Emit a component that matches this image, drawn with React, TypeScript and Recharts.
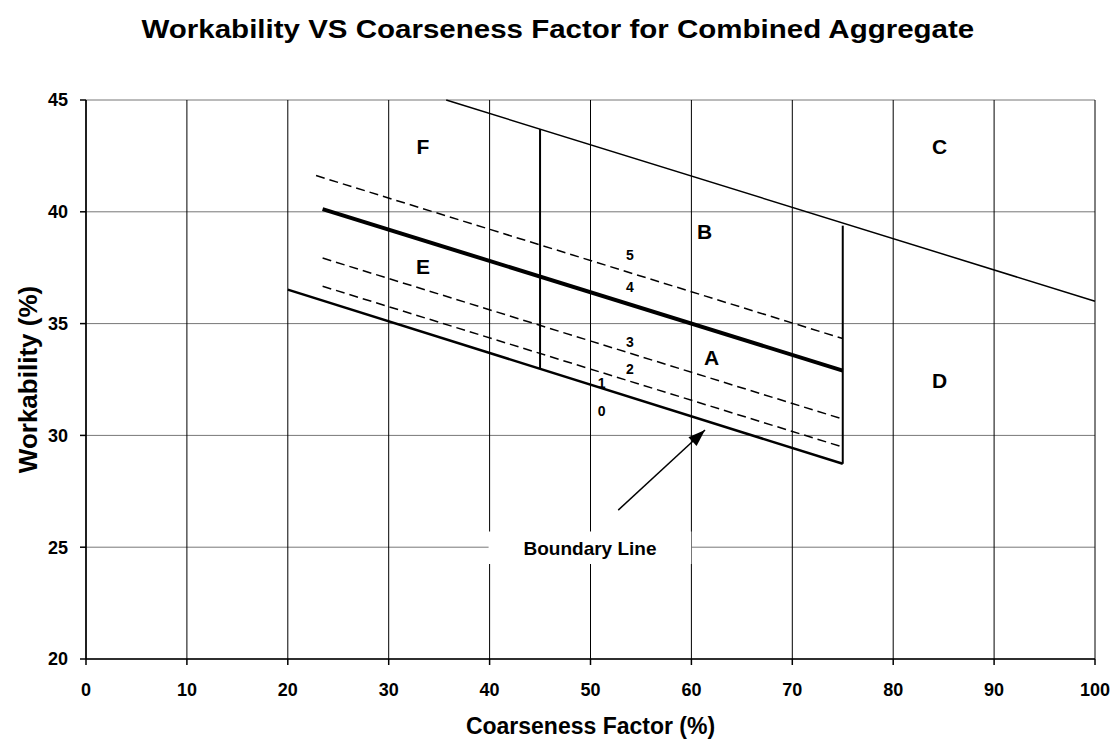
import * as React from 'react';
import {
    ComposedChart,
    CartesianGrid,
    XAxis,
    YAxis,
    Line,
    Scatter,
    ReferenceArea
} from 'recharts';

// axis ticks
const xTicks = [0, 10, 20, 30, 40, 50, 60, 70, 80, 90, 100];
const yTicks = [20, 25, 30, 35, 40, 45];

// lines (coarseness factor, workability)
const upperLimit = [{ x: 35.7, y: 45 }, { x: 100, y: 36.0 }];
const dashed45 = [{ x: 22.8, y: 41.62 }, { x: 75, y: 34.33 }];
const bandLine = [{ x: 23.45, y: 40.12 }, { x: 75, y: 32.9 }];
const dashed23 = [{ x: 23.45, y: 37.93 }, { x: 75, y: 30.73 }];
const dashed12 = [{ x: 23.45, y: 36.67 }, { x: 75, y: 29.48 }];
const boundaryLine = [{ x: 20, y: 36.52 }, { x: 75, y: 28.73 }];
const leftWall = [{ x: 45, y: 32.97 }, { x: 45, y: 43.7 }];
const rightWall = [{ x: 75, y: 28.73 }, { x: 75, y: 39.38 }];
const arrowLine = [{ x: 52.75, y: 26.66 }, { x: 61.35, y: 30.24 }];

// zone letters and sub-zone numbers
const zoneLetters = [
    { x: 33.4, y: 42.9, t: 'F' },
    { x: 84.6, y: 42.9, t: 'C' },
    { x: 61.3, y: 39.1, t: 'B' },
    { x: 33.4, y: 37.55, t: 'E' },
    { x: 62.0, y: 33.5, t: 'A' },
    { x: 84.6, y: 32.45, t: 'D' }
];
const zoneNumbers = [
    { x: 53.9, y: 38.07, t: '5' },
    { x: 53.9, y: 36.62, t: '4' },
    { x: 53.9, y: 34.18, t: '3' },
    { x: 53.9, y: 32.97, t: '2' },
    { x: 51.1, y: 32.36, t: '1' },
    { x: 51.1, y: 31.1, t: '0' }
];

const font = 'Arial, "Liberation Sans", sans-serif';

const makeText = (size: number) => (props: any) => {
    return (
        <text x={props.cx} y={props.cy} textAnchor="middle" dominantBaseline="central"
            fontSize={size} fontWeight="bold" fill="#000" fontFamily={font}>
            {props.payload.t}
        </text>
    );
}

const ArrowHead = (props: any) => {
    const { cx, cy, index, points } = props;
    if (index !== 1 || !points || !points[0]) return <g key={'ah' + index} />;
    const ang = Math.atan2(cy - points[0].y, cx - points[0].x);
    const len = 17, w = 6;
    const bx = cx - len * Math.cos(ang);
    const by = cy - len * Math.sin(ang);
    const nx = -Math.sin(ang) * w;
    const ny = Math.cos(ang) * w;
    return <polygon key={'ah' + index} points={`${cx},${cy} ${bx + nx},${by + ny} ${bx - nx},${by - ny}`} fill="#000" />
}

export default function App() {
    return (
        <div style={{ position: 'absolute', left: 0, top: 0, width: 1115, height: 740, background: '#fff', fontFamily: font }}>
            <div style={{ position: 'absolute', top: 17, left: 0, width: 1115, textAlign: 'center', lineHeight: '25px' }}>
                <span style={{ display: 'inline-block', fontSize: 25, fontWeight: 'bold', transform: 'scaleX(1.18)' }}>
                    Workability VS Coarseness Factor for Combined Aggregate
                </span>
            </div>
            <ComposedChart width={1115} height={740} margin={{ top: 100, right: 20, bottom: 0, left: 0 }}>
                <CartesianGrid vertical={false} stroke="#777" />
                <CartesianGrid horizontal={false} stroke="#000" />
                <XAxis dataKey="x" type="number" domain={[0, 100]} ticks={xTicks} height={81}
                    stroke="#000" strokeWidth={1.5} tickSize={6} tickMargin={18}
                    tick={{ fill: '#000', fontSize: 18, fontWeight: 'bold' }}
                    label={{ value: 'Coarseness Factor (%)', position: 'insideBottom', offset: 6, fill: '#000', fontSize: 23, fontWeight: 'bold' }} />
                <YAxis dataKey="y" type="number" domain={[20, 45]} ticks={yTicks} width={86}
                    stroke="#000" strokeWidth={1.5} tickSize={6} tickMargin={12}
                    tick={{ fill: '#000', fontSize: 18, fontWeight: 'bold' }}
                    label={{ value: 'Workability (%)', angle: -90, position: 'insideLeft', offset: 28, fill: '#000', fontSize: 26, fontWeight: 'bold', style: { textAnchor: 'middle' } }} />
                <ReferenceArea x1={39.9} x2={60} y1={24.25} y2={25.7} fill="#fff" fillOpacity={1} stroke="none"
                    label={{ value: 'Boundary Line', position: 'center', fill: '#000', fontSize: 19, fontWeight: 'bold' }} />
                <Line data={upperLimit} dataKey="y" stroke="#000" strokeWidth={1.5} dot={false} isAnimationActive={false} />
                <Line data={dashed45} dataKey="y" stroke="#000" strokeWidth={1.5} strokeDasharray="9 5" dot={false} isAnimationActive={false} />
                <Line data={dashed23} dataKey="y" stroke="#000" strokeWidth={1.5} strokeDasharray="9 5" dot={false} isAnimationActive={false} />
                <Line data={dashed12} dataKey="y" stroke="#000" strokeWidth={1.5} strokeDasharray="9 5" dot={false} isAnimationActive={false} />
                <Line data={bandLine} dataKey="y" stroke="#000" strokeWidth={4} dot={false} isAnimationActive={false} />
                <Line data={boundaryLine} dataKey="y" stroke="#000" strokeWidth={2.5} dot={false} isAnimationActive={false} />
                <Line data={leftWall} dataKey="y" stroke="#000" strokeWidth={2} dot={false} isAnimationActive={false} />
                <Line data={rightWall} dataKey="y" stroke="#000" strokeWidth={2} dot={false} isAnimationActive={false} />
                <Line data={arrowLine} dataKey="y" stroke="#000" strokeWidth={1.5} dot={<ArrowHead />} activeDot={false} isAnimationActive={false} />
                <Scatter data={zoneLetters} dataKey="y" shape={makeText(21)} isAnimationActive={false} />
                <Scatter data={zoneNumbers} dataKey="y" shape={makeText(14)} isAnimationActive={false} />
            </ComposedChart>
        </div>
    );
}
